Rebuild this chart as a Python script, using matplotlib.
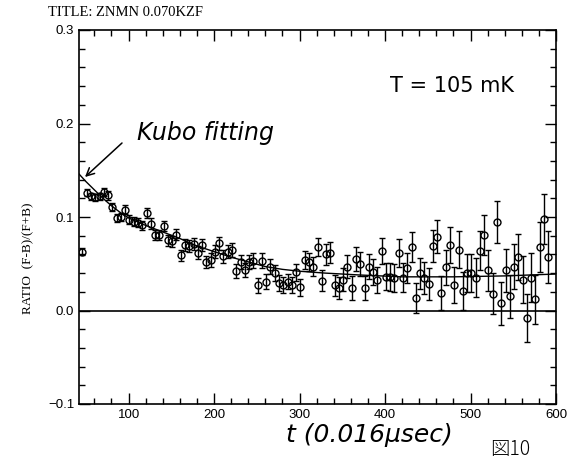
import numpy as np
import matplotlib
matplotlib.use("Agg")
import matplotlib.pyplot as plt
from matplotlib.ticker import MultipleLocator

# time channels (units of 0.016 usec)
t = np.arange(46, 596, 5)

# asymmetry ratio (F-B)/(F+B)
ratio = [
    0.063, 0.126, 0.122, 0.121, 0.122, 0.127, 0.123, 0.111, 0.099, 0.100,
    0.108, 0.097, 0.095, 0.094, 0.091, 0.104, 0.093, 0.081, 0.081, 0.090,
    0.075, 0.074, 0.081, 0.059, 0.070, 0.069, 0.071, 0.062, 0.070, 0.052,
    0.054, 0.063, 0.072, 0.058, 0.063, 0.065, 0.042, 0.052,
    0.043, 0.052, 0.053, 0.027, 0.053, 0.031, 0.047, 0.040, 0.029, 0.027,
    0.031, 0.027, 0.041, 0.025, 0.054, 0.052, 0.047, 0.068, 0.032, 0.060,
    0.062, 0.027, 0.024, 0.033, 0.047, 0.024, 0.055, 0.050, 0.024, 0.047,
    0.041, 0.033, 0.064, 0.036, 0.036, 0.035, 0.062,
    0.035, 0.045, 0.068, 0.013, 0.040, 0.035, 0.028, 0.069, 0.079, 0.019,
    0.046, 0.070, 0.027, 0.065, 0.021, 0.040, 0.040, 0.035, 0.064, 0.081,
    0.043, 0.018, 0.095, 0.008, 0.043, 0.015, 0.047, 0.057, 0.033, -0.008,
    0.035, 0.012, 0.068, 0.098, 0.057,
]

# error bars (half length)
err = [
    0.004, 0.004, 0.004, 0.004, 0.004, 0.0045, 0.0045, 0.0045, 0.0045, 0.0045,
    0.005, 0.005, 0.005, 0.005, 0.005, 0.0055, 0.0055, 0.0055, 0.0055, 0.0055,
    0.006, 0.006, 0.006, 0.006, 0.006, 0.0065, 0.0065, 0.0065, 0.0065, 0.0065,
    0.007, 0.007, 0.007, 0.007, 0.007, 0.0075, 0.0075, 0.0075, 0.0075, 0.0075,
    0.008, 0.008, 0.008, 0.008, 0.008, 0.0085, 0.0085, 0.0085, 0.0085, 0.0085,
    0.009, 0.009, 0.0095, 0.0095, 0.010, 0.010, 0.011, 0.011, 0.011, 0.0115,
    0.012, 0.012, 0.012, 0.0125, 0.013, 0.013, 0.013, 0.0135, 0.014, 0.014,
    0.014, 0.0145, 0.015, 0.015, 0.015, 0.0155, 0.016, 0.016, 0.016, 0.0165,
    0.017, 0.017, 0.0175, 0.018, 0.018, 0.0185, 0.019, 0.019, 0.0195, 0.020,
    0.020, 0.0205, 0.021, 0.021, 0.0215, 0.022, 0.022, 0.0225, 0.023, 0.023,
    0.0235, 0.024, 0.0245, 0.025, 0.0255, 0.026, 0.0265, 0.027, 0.027, 0.028,
]

# Kubo fitting curve, read at a few points
fit_t = [42, 50, 60, 70, 80, 90, 100, 120, 140, 160, 180, 200, 220, 240,
         260, 280, 300, 330, 370, 420, 480, 540, 600]
fit_v = [0.146, 0.138, 0.129, 0.120, 0.112, 0.105, 0.099, 0.091, 0.084,
         0.077, 0.069, 0.063, 0.057, 0.052, 0.047, 0.044, 0.042, 0.040,
         0.038, 0.036, 0.036, 0.037, 0.039]

x_ticks = [100, 200, 300, 400, 500, 600]
y_ticks = [-0.1, 0.0, 0.1, 0.2, 0.3]

hand = dict(family="DejaVu Sans", style="italic", weight="light")

fig = plt.figure(figsize=(5.68, 4.62), dpi=100)
ax = fig.add_axes([79 / 568, 1 - 404 / 462, 477 / 568, 374 / 462])

ax.errorbar(t, ratio, yerr=err, fmt="o", mfc="none", mec="black", ms=5,
            mew=1.0, ecolor="black", elinewidth=1.0, capsize=2,
            capthick=1.0, color="black")
ax.plot(fit_t, fit_v, color="black", lw=1.0)
ax.axhline(0.0, color="black", lw=1.2)

ax.set_xlim(42, 600)
ax.set_ylim(-0.1, 0.3)
ax.set_xticks(x_ticks)
ax.set_yticks(y_ticks)
ax.set_yticklabels(["\u22120.1", "0.0", "0.1", "0.2", "0.3"])
ax.xaxis.set_minor_locator(MultipleLocator(20))
ax.yaxis.set_minor_locator(MultipleLocator(0.02))
ax.tick_params(which="both", direction="in", top=True, right=True,
               width=1.0, labelsize=9.5)
ax.tick_params(which="major", length=8)
ax.tick_params(which="minor", length=4)
for lab in ax.get_xticklabels() + ax.get_yticklabels():
    lab.set_family("Liberation Sans")
for s in ax.spines.values():
    s.set_linewidth(1.2)

fig.text(48 / 568, 1 - 13 / 462, "TITLE: ZNMN 0.070KZF", family="Liberation Serif",
         fontsize=10.5, va="center", ha="left")
fig.text(28 / 568, 1 - 258 / 462, "RATIO  (F-B)/(F+B)", family="Liberation Serif",
         fontsize=9.5, rotation=90, va="center", ha="center")

fig.text(390 / 568, 1 - 86 / 462, "T = 105 mK", fontsize=15,
         va="center", ha="left", family="DejaVu Sans")

# handwritten note with its arrow
fig.text(137 / 568, 1 - 133 / 462, "Kubo fitting", fontsize=17,
         va="center", ha="left", **hand)
ax.annotate("", xy=(85 / 568, 1 - 177 / 462), xycoords="figure fraction",
            xytext=(122 / 568, 1 - 143 / 462), textcoords="figure fraction",
            arrowprops=dict(arrowstyle="->", color="black", lw=1.1,
                            shrinkA=0, shrinkB=0, mutation_scale=14))

fig.text(369 / 568, 1 - 435 / 462, "t (0.016\u03bcsec)", fontsize=18,
         va="center", ha="center", **hand)
fig.text(490 / 568, 1 - 449 / 462, "図10", fontsize=14, va="center", ha="left",
         family=["Noto Sans CJK JP", "DejaVu Sans"], weight="light")

fig.savefig("out.png", dpi=100)
